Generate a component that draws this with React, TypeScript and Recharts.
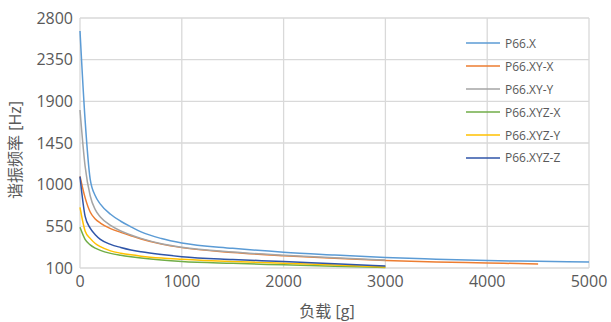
import { LineChart, Line, XAxis, YAxis, CartesianGrid, Label } from 'recharts';

const loads = [0, 50, 100, 150, 200, 300, 400, 500, 600, 800, 1000, 1500, 2000, 2500, 3000, 3500, 4000, 4500, 5000];
const p66X = [2660, 1700, 1060, 880, 790, 680, 605, 545, 490, 418, 370, 313, 270, 240, 213, 195, 180, 172, 165];
const p66XYX = [1090, 860, 705, 630, 585, 525, 485, 448, 413, 358, 320, 268, 233, 205, 182, 166, 155, 143];
const p66XYY = [1806, 1200, 880, 730, 650, 560, 500, 457, 420, 362, 324, 272, 238, 210, 186];
const p66XYZX = [540, 410, 350, 315, 290, 258, 238, 222, 208, 186, 170, 150, 134, 119, 106];
const p66XYZY = [755, 500, 420, 365, 330, 285, 260, 242, 228, 208, 195, 170, 152, 132, 112];
const p66XYZZ = [1086, 660, 530, 460, 410, 355, 322, 295, 275, 245, 222, 192, 170, 145, 122];

const xTicks = [0, 1000, 2000, 3000, 4000, 5000];
const yTicks = [100, 550, 1000, 1450, 1900, 2350, 2800];

const series = [
  { key: 'P66.X', values: p66X, color: '#5B9BD5' },
  { key: 'P66.XY-X', values: p66XYX, color: '#ED7D31' },
  { key: 'P66.XY-Y', values: p66XYY, color: '#A5A5A5' },
  { key: 'P66.XYZ-X', values: p66XYZX, color: '#70AD47' },
  { key: 'P66.XYZ-Y', values: p66XYZY, color: '#FFC000' },
  { key: 'P66.XYZ-Z', values: p66XYZZ, color: '#2F55A8' },
];

const data = loads.map((load, i) => {
  const row: Record<string, number | undefined> = { load };
  series.forEach(s => { row[s.key] = s.values[i]; });
  return row;
});

const font = '"Open Sans", "Noto Sans CJK SC", sans-serif';
const textColor = '#595959';

// legend sits over the plot, like the Excel original
function LegendBox() {
  return (
    <div style={{ position: 'absolute', left: 466, top: 32, fontFamily: font, fontSize: 12, color: textColor }}>
      {series.map(s => (
        <div key={s.key} style={{ display: 'flex', alignItems: 'center', height: 22.9 }}>
          <svg width={34} height={4} style={{ marginRight: 5 }}>
            <line x1={0} y1={2} x2={34} y2={2} stroke={s.color} strokeWidth={1.5} />
          </svg>
          <span>{s.key}</span>
        </div>
      ))}
    </div>
  );
}

export default function App() {
  return (
    <div style={{ position: 'absolute', left: 0, top: 0, width: 611, height: 322, background: '#fff' }}>
      <LineChart width={611} height={322} data={data} margin={{ top: 18, right: 22, bottom: 0, left: 0 }}>
        <CartesianGrid stroke="#d9d9d9" strokeWidth={1.3} />
        <XAxis
          dataKey="load"
          type="number"
          domain={[0, 5000]}
          ticks={xTicks}
          axisLine={false}
          tickLine={false}
          tickSize={0}
          tickMargin={8}
          height={54}
          tick={{ fill: textColor, fontSize: 16, fontFamily: font }}
        >
          <Label
            content={() => (
              <text x={327} y={317} textAnchor="middle" fill={textColor} fontSize={16} fontFamily={font}>负载 [g]</text>
            )}
          />
        </XAxis>
        <YAxis
          type="number"
          domain={[100, 2800]}
          ticks={yTicks}
          interval={0}
          axisLine={false}
          tickLine={false}
          tickSize={0}
          tickMargin={7}
          width={80}
          tick={{ fill: textColor, fontSize: 16, fontFamily: font }}
        >
          <Label
            content={() => (
              <text x={15} y={150} transform="rotate(-90 15 150)" textAnchor="middle" dominantBaseline="central" fill={textColor} fontSize={16} fontFamily={font}>谐振频率 [Hz]</text>
            )}
          />
        </YAxis>
        {series.map(s => (
          <Line
            key={s.key}
            dataKey={s.key}
            name={s.key}
            type="monotone"
            stroke={s.color}
            strokeWidth={1.5}
            dot={false}
            activeDot={false}
            isAnimationActive={false}
          />
        ))}
      </LineChart>
      <LegendBox />
    </div>
  );
}
